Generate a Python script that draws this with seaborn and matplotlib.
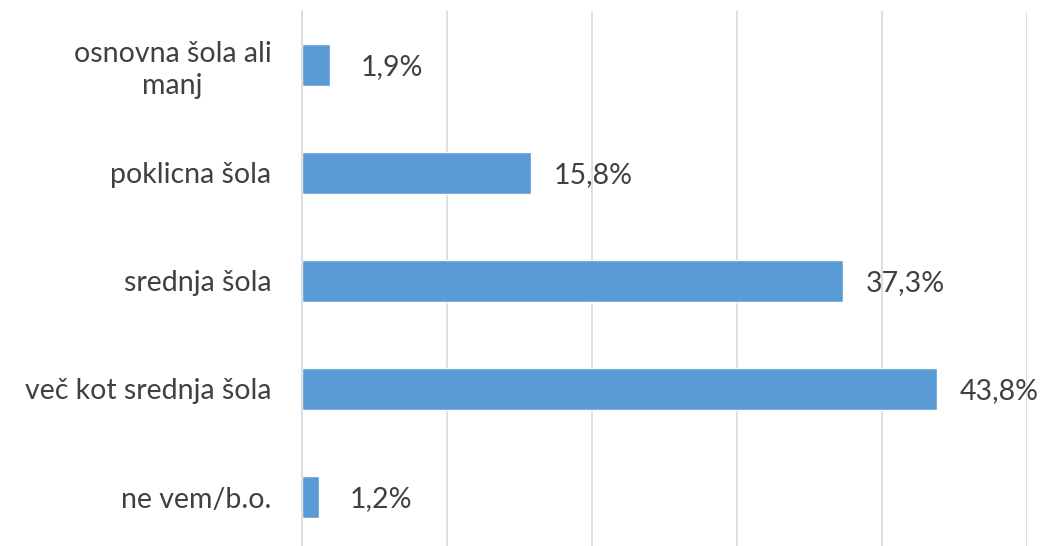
import matplotlib
matplotlib.use("Agg")
import matplotlib.pyplot as plt
import seaborn as sns
import pandas as pd

categories = ["osnovna šola ali\nmanj", "poklicna šola", "srednja šola",
              "več kot srednja šola", "ne vem/b.o."]
values = [1.9, 15.8, 37.3, 43.8, 1.2]
value_labels = ["1,9%", "15,8%", "37,3%", "43,8%", "1,2%"]

df = pd.DataFrame({"kategorija": categories, "delez": values})

sns.set_style("white")
plt.rcParams["font.family"] = ["Lato", "DejaVu Sans"]

fig = plt.figure(figsize=(10.53, 5.46), dpi=100)
ax = fig.add_axes([302 / 1053, -5 / 546, 725 / 1053, 540 / 546])

sns.barplot(data=df, x="delez", y="kategorija", orient="h", color="#5B9BD5",
            saturation=1, width=0.39, ax=ax)

ax.set_xlim(0, 50)
ax.set_xticks([0, 10, 20, 30, 40, 50])
ax.set_xticklabels([])
ax.grid(axis="x", color="#D9D9D9", linewidth=1.2)
ax.set_axisbelow(True)
for s in ["top", "right", "bottom"]:
    ax.spines[s].set_visible(False)
ax.spines["left"].set_color("#D9D9D9")
ax.spines["left"].set_linewidth(1.2)
ax.tick_params(axis="both", length=0)
ax.tick_params(axis="y", pad=22, labelsize=20.5, labelcolor="#404040")
for lab in ax.get_yticklabels():
    lab.set_multialignment("center")
    lab.set_linespacing(1.25)
ax.set_xlabel("")
ax.set_ylabel("")

for i, (v, t) in enumerate(zip(values, value_labels)):
    ax.annotate(t, xy=(v, i), xytext=(62, -2), textcoords="offset pixels",
                ha="center", va="center", fontsize=20.5, color="#404040")

fig.savefig("out.png", dpi=100)
